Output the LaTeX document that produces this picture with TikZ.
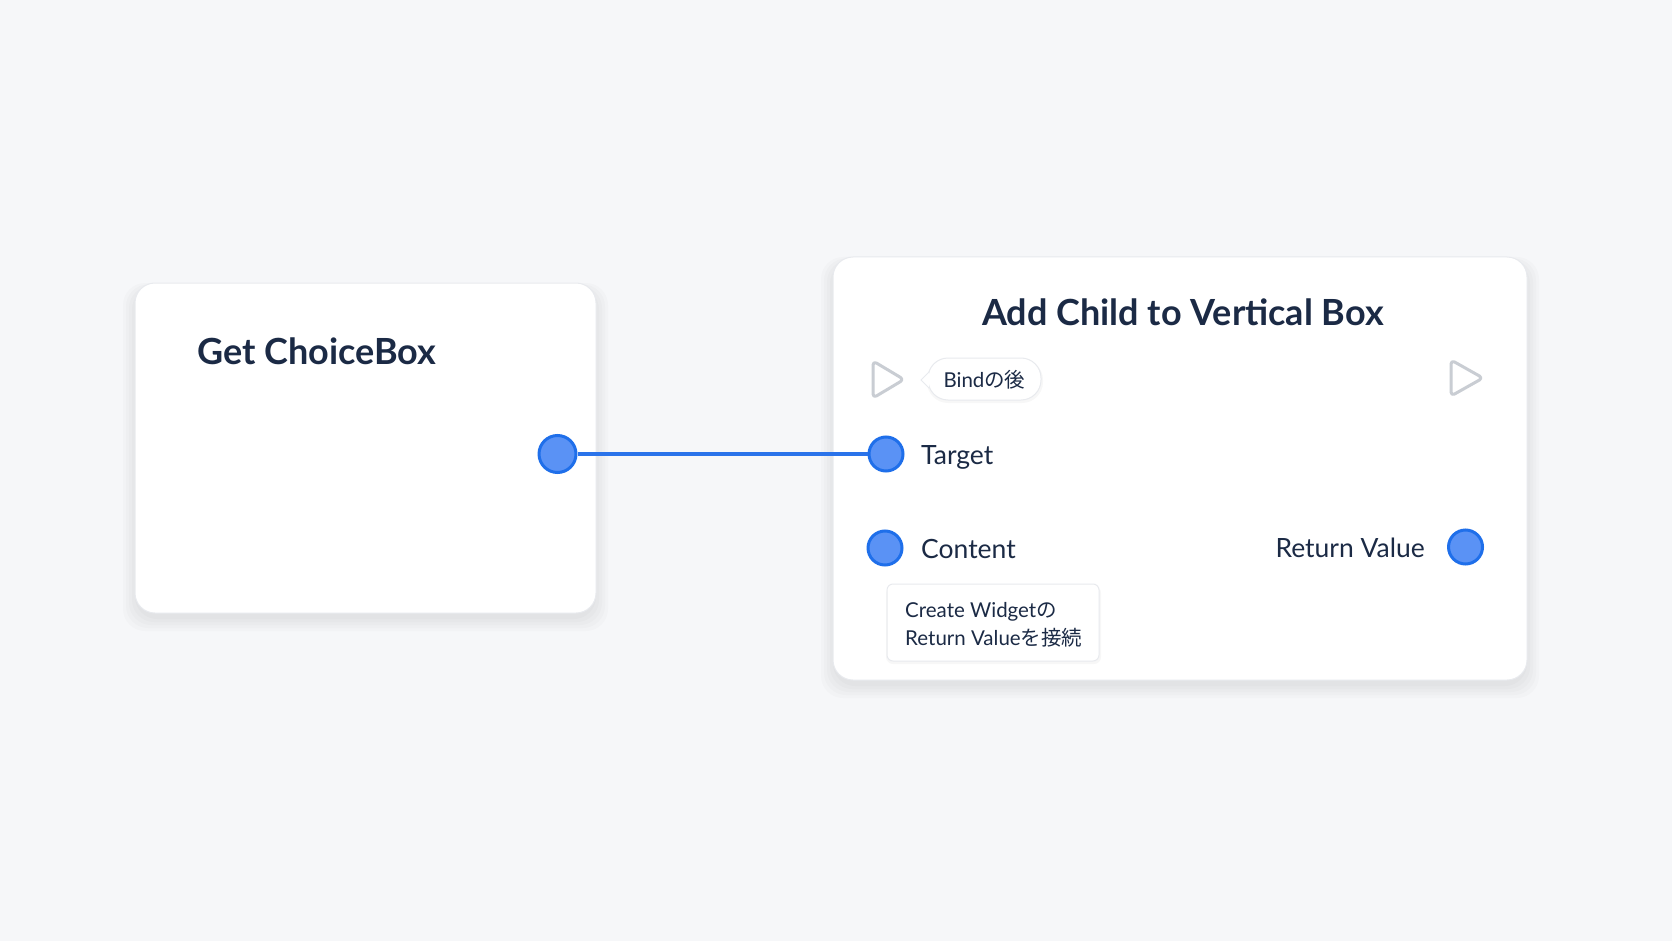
\documentclass[tikz,border=0pt]{standalone}
\usepackage{fontspec}
\setmainfont{Lato}
\newfontfamily\jp{Noto Sans CJK JP}
\usetikzlibrary{calc}
\definecolor{bgc}{HTML}{F6F7F9}
\definecolor{txt}{HTML}{1B2A45}
\definecolor{pinfill}{HTML}{5A92F5}
\definecolor{pinline}{HTML}{1F6FEA}
\definecolor{wire}{HTML}{2A73EA}
\definecolor{execc}{HTML}{C9CDD3}
\definecolor{cardline}{HTML}{E8EAEE}
\begin{document}
\begin{tikzpicture}[x=1pt,y=-1pt,
  card/.style={draw=cardline, line width=1pt, fill=white, rounded corners=20pt, inner sep=0pt},
  shadowc/.style={fill=black, rounded corners=22pt, opacity=0.014},
  pin/.style={circle, draw=pinline, fill=pinfill, line width=3pt, minimum size=34pt, inner sep=0pt},
  title/.style={text=txt, font=\bfseries\fontsize{36}{40}\selectfont, inner sep=0pt},
  lab/.style={text=txt, font=\fontsize{26.5}{30}\selectfont, inner sep=0pt},
  small/.style={text=txt, font=\fontsize{20.5}{28}\selectfont, inner sep=0pt},
  execpin/.style={draw=execc, line width=3pt, rounded corners=4pt, line join=round},
  wirestyle/.style={draw=wire, line width=4pt}
]
\useasboundingbox (0,0) rectangle (1672,941);
\fill[bgc] (0,0) rectangle (1672,941);

% shadows
\foreach \d in {0,3,6,9,12} {
  \fill[shadowc] (135-\d,283+6-\d*0.5) rectangle (596+\d,613+6+\d);
  \fill[shadowc] (833-\d,257+6-\d*0.5) rectangle (1527+\d,680+6+\d);
}

% cards
\node[card, minimum width=461pt, minimum height=330pt] (get) at (365.5,448) {};
\node[card, minimum width=694pt, minimum height=423pt] (add) at (1180,468.5) {};

% titles
\node[title, anchor=base west] (gettitle) at (197,364) {Get ChoiceBox};
\node[title, anchor=base] (addtitle) at (1183,325) {Add Child to Vertical Box};

% exec pins
\draw[execpin] (873,361) -- (904,379.5) -- (873,398) -- cycle;
\draw[execpin] (1451,360) -- (1483,378) -- (1451,396) -- cycle;

% bubble
\fill[black, opacity=0.03, rounded corners=21pt] (927,359) rectangle (1043,403);
\draw[cardline, fill=white, line width=1pt, rounded corners=20pt] (928,358) rectangle (1041,400);
\fill[white] (929,372) -- (921,380) -- (929,388) -- cycle;
\draw[cardline, line width=1pt] (929,372) -- (921,380) -- (929,388);
\node[small, anchor=base] (bind) at (984.5,387) {Bind{\jp の後}};

% pins
\node[pin, minimum size=37pt] (out) at (557.5,454) {};
\node[pin] (target) at (886,454) {};
\node[pin] (content) at (885,548) {};
\node[pin] (ret) at (1465.5,547) {};
\draw[wirestyle] (out.east) -- (target.west);

% labels
\node[lab, anchor=base west] (tlab) at (921,464) {Target};
\node[lab, anchor=base west] (clab) at (921,558) {Content};
\node[lab, anchor=base east] (rlab) at (1425,557) {Return Value};

% tooltip
\fill[black, opacity=0.03, rounded corners=7pt] (886,586) rectangle (1101,664);
\draw[cardline, fill=white, line width=1pt, rounded corners=6pt] (887,584) rectangle (1099,661);
\node[small, anchor=base west] (tip1) at (905,617) {Create Widget{\jp の}};
\node[small, anchor=base west] (tip2) at (905,645) {Return Value{\jp を接続}};
\end{tikzpicture}
\end{document}
